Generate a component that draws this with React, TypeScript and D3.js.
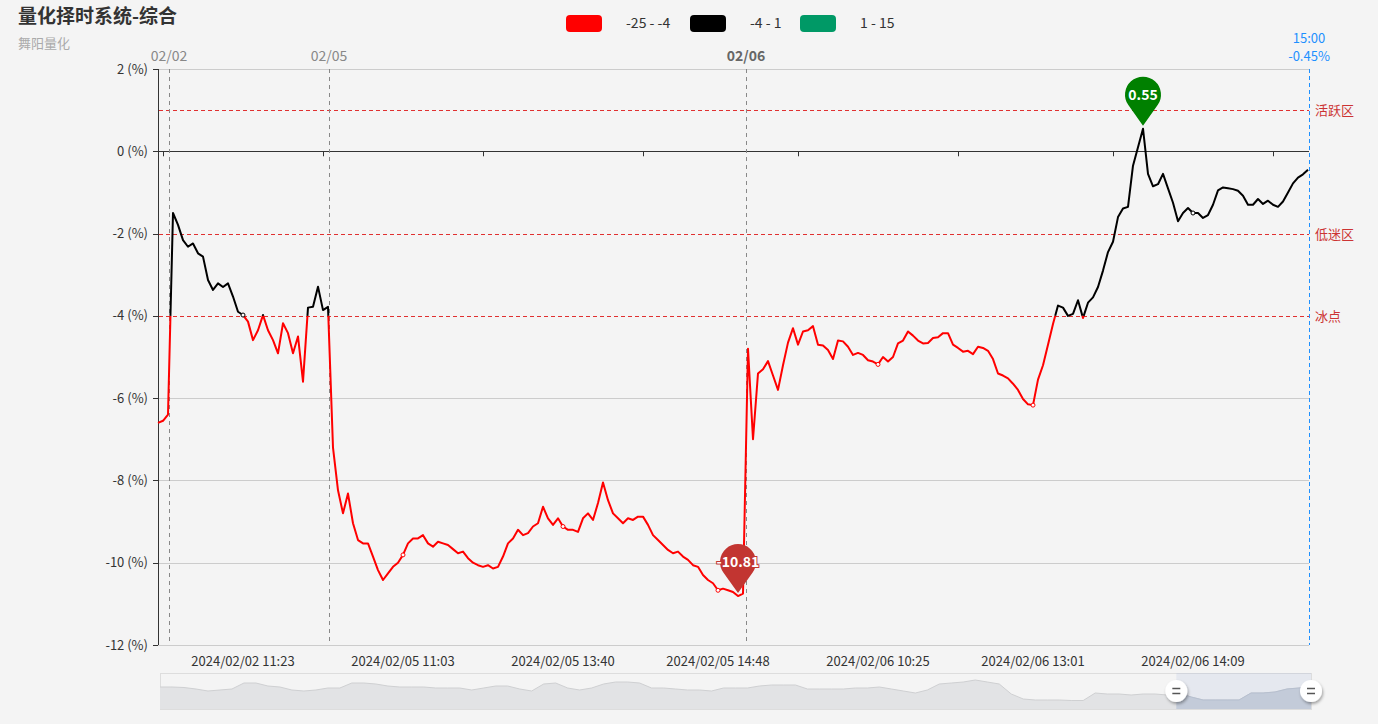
import React from "react";
import * as d3 from "d3";

const titleText = "量化择时系统-综合";
const subtitleText = "舞阳量化";

const values: number[] = [
  -6.6, -6.55, -6.4, -1.5, -1.79, -2.16, -2.32, -2.24, -2.48, -2.56,
  -3.13, -3.37, -3.21, -3.3, -3.21, -3.53, -3.9, -3.98, -4.14, -4.59,
  -4.35, -3.98, -4.35, -4.59, -4.91, -4.18, -4.42, -4.91, -4.5, -5.6,
  -3.8, -3.78, -3.29, -3.86, -3.78, -7.2, -8.24, -8.8, -8.32, -9.04,
  -9.45, -9.53, -9.53, -9.85, -10.18, -10.42, -10.26, -10.1, -10.0, -9.81,
  -9.53, -9.41, -9.41, -9.33, -9.53, -9.61, -9.49, -9.53, -9.57, -9.67,
  -9.77, -9.73, -9.89, -10.0, -10.06, -10.1, -10.06, -10.14, -10.1, -9.85,
  -9.53, -9.41, -9.2, -9.33, -9.28, -9.12, -9.04, -8.64, -8.92, -9.08,
  -8.92, -9.12, -9.2, -9.2, -9.25, -8.92, -8.8, -8.96, -8.55, -8.05,
  -8.48, -8.8, -8.92, -9.04, -8.92, -8.96, -8.88, -8.88, -9.08, -9.33,
  -9.45, -9.57, -9.69, -9.77, -9.73, -9.85, -9.93, -10.06, -10.1, -10.3,
  -10.42, -10.5, -10.67, -10.63, -10.67, -10.71, -10.81, -10.75, -4.8, -7.0,
  -5.4, -5.3, -5.1, -5.45, -5.8, -5.2, -4.65, -4.3, -4.7, -4.38,
  -4.35, -4.25, -4.7, -4.72, -4.83, -5.05, -4.6, -4.62, -4.75, -4.95,
  -4.9, -4.95, -5.08, -5.11, -5.18, -5.0, -5.11, -5.0, -4.67, -4.6,
  -4.38, -4.48, -4.6, -4.67, -4.66, -4.54, -4.52, -4.42, -4.42, -4.7,
  -4.78, -4.87, -4.85, -4.93, -4.75, -4.78, -4.85, -5.05, -5.4, -5.45,
  -5.52, -5.65, -5.8, -6.02, -6.15, -6.17, -5.55, -5.2, -4.7, -4.2,
  -3.75, -3.8, -4.0, -3.95, -3.62, -4.05, -3.68, -3.55, -3.3, -2.9,
  -2.45, -2.2, -1.6, -1.39, -1.35, -0.35, 0.1, 0.55, -0.55, -0.85,
  -0.8, -0.55, -0.9, -1.25, -1.7, -1.5, -1.38, -1.5, -1.5, -1.62,
  -1.55, -1.3, -0.95, -0.88, -0.9, -0.92, -0.96, -1.08, -1.3, -1.3,
  -1.16, -1.28, -1.2, -1.3, -1.35, -1.22, -1.0, -0.78, -0.64, -0.56,
  -0.45,
];

const xLabels = [
  "2024/02/02 11:23",
  "2024/02/05 11:03",
  "2024/02/05 13:40",
  "2024/02/05 14:48",
  "2024/02/06 10:25",
  "2024/02/06 13:01",
  "2024/02/06 14:09",
];
const xLabelIdx = [17, 49, 81, 112, 144, 175, 207];

const dayMarkers = [
  { label: "02/02", idx: 2.2, bold: false },
  { label: "02/05", idx: 34.2, bold: false },
  { label: "02/06", idx: 117.6, bold: true },
];
const lastTime = "15:00";

const pieces = [
  { min: -25, max: -4, color: "#ff0000", label: "-25 - -4" },
  { min: -4, max: 1, color: "#000000", label: "-4 - 1" },
  { min: 1, max: 15, color: "#009966", label: "1 - 15" },
];

const refLines = [
  { value: 1, label: "活跃区" },
  { value: -2, label: "低迷区" },
  { value: -4, label: "冰点" },
];

const yTicks = [2, 0, -2, -4, -6, -8, -10, -12];

const overview: number[] = [
  22, 22, 21.5, 20, 18, 19, 20, 26, 26, 23, 22, 19, 18, 19, 21, 21, 26, 26, 25, 23,
  22, 22, 22, 21, 21, 21, 19, 21, 23, 23, 20, 18, 25, 26, 21, 19, 21, 25, 27, 27,
  26, 21, 21, 20, 19, 19, 18, 21, 21, 21, 23, 24, 24, 24, 20, 20, 20, 20, 21, 21,
  22, 20, 18, 16, 19, 25, 26, 27, 29, 27, 25, 15, 10, 9, 9, 9, 8.5, 8.5, 16, 15,
  15, 14, 15, 15, 14, 16, 12, 9, 9, 9, 9, 16, 16, 17, 20, 21, 22,
];
const zoomRange = [88.3, 100];

const FONT = "'Noto Sans CJK SC', 'Microsoft YaHei', sans-serif";

function colorOf(v: number) {
  for (const p of pieces) if (v >= p.min && v <= p.max) return p.color;
  return pieces[pieces.length - 1].color;
}

function pinPath(cx: number, cy: number, r: number, d: number) {
  const c = r / d;
  const s = Math.sqrt(1 - c * c);
  const lx = cx - r * s, ly = cy + r * c;
  const rx = cx + r * s;
  return `M${cx},${cy + d} L${lx},${ly} A${r},${r} 0 1 1 ${rx},${ly} Z`;
}

const px = (v: number) => Math.round(v) + 0.5;

export default function App() {
  const W = 1378, H = 724;
  const x = d3.scaleLinear().domain([0, values.length - 1]).range([158, 1308]);
  const y = d3.scaleLinear().domain([-12, 2]).range([645, 69]);
  const left = 158, right = 1309;

  const thresholds = Array.from(new Set(pieces.flatMap((p) => [p.min, p.max])));
  type Pt = [number, number];
  const segs: { color: string; pts: Pt[] }[] = [];
  const push = (a: Pt, b: Pt) => {
    const color = colorOf((a[1] + b[1]) / 2);
    const last = segs[segs.length - 1];
    if (last && last.color === color) last.pts.push(b);
    else segs.push({ color, pts: [a, b] });
  };
  for (let i = 0; i < values.length - 1; i++) {
    const a: Pt = [i, values[i]], b: Pt = [i + 1, values[i + 1]];
    const cross = thresholds
      .filter((t) => (t - a[1]) * (t - b[1]) < 0)
      .map((t) => (t - a[1]) / (b[1] - a[1]))
      .sort((p, q) => p - q);
    let prev = a;
    for (const f of cross) {
      const m: Pt = [a[0] + f * (b[0] - a[0]), a[1] + f * (b[1] - a[1])];
      push(prev, m);
      prev = m;
    }
    push(prev, b);
  }
  const line = d3.line<Pt>().x((d) => x(d[0])).y((d) => y(d[1]));

  const maxV = d3.max(values)!;
  const minV = d3.min(values)!;
  const maxI = values.indexOf(maxV);
  const minI = values.indexOf(minV);
  const lastV = values[values.length - 1];

  const half = (xLabelIdx[1] - xLabelIdx[0]) / 2;
  const tickIdx = [xLabelIdx[0] - half, ...xLabelIdx.map((i) => i + half)];

  const ox = d3.scaleLinear().domain([0, overview.length - 1]).range([160, 1311]);
  const oy = d3.scaleLinear().domain([0, 36]).range([709, 673]);
  const area = d3.area<number>().x((_, i) => ox(i)).y0(oy(0)).y1((d) => oy(d));
  const oline = d3.line<number>().x((_, i) => ox(i)).y((d) => oy(d));
  const zx = d3.scaleLinear().domain([0, 100]).range([160, 1311]);
  const z0 = zx(zoomRange[0]), z1 = zx(zoomRange[1]);

  const markers = [
    { i: maxI, v: maxV, color: "#008000" },
    { i: minI, v: minV, color: "#c23531" },
  ];

  return (
    <div>
      <style>{`body{margin:0;background:#f4f4f4}`}</style>
      <svg width={W} height={H} style={{ display: "block", fontFamily: FONT }}>
        <defs>
          <filter id="sh" x="-50%" y="-50%" width="200%" height="200%">
            <feDropShadow dx="1" dy="2" stdDeviation="1.5" floodColor="#000" floodOpacity="0.35" />
          </filter>
          <clipPath id="sel">
            <rect x={z0} y={660} width={z1 - z0} height={60} />
          </clipPath>
        </defs>
        <rect width={W} height={H} fill="#f4f4f4" />
        <text x={18} y={23} fontSize={19} fontWeight="bold" fill="#333">{titleText}</text>
        <text x={18} y={48} fontSize={13} fill="#aaa">{subtitleText}</text>

        {pieces.map((p, k) => {
          const lx = [566, 690, 800][k];
          const tx = [626, 750, 860][k];
          return (
            <g key={p.label}>
              <rect x={lx} y={15} width={36} height={17} rx={4} fill={p.color} />
              <text x={tx} y={28} fontSize={14} fill="#333">{p.label}</text>
            </g>
          );
        })}

        {yTicks.map((t) => (
          <line key={t} x1={left} x2={right} y1={px(y(t))} y2={px(y(t))} stroke={t === 0 ? "#333" : "#ccc"} strokeWidth={1} />
        ))}
        {yTicks.map((t) => (
          <g key={"yl" + t}>
            <line x1={left - 5} x2={left} y1={px(y(t))} y2={px(y(t))} stroke="#333" />
            <text x={left - 10} y={y(t) + 4.5} fontSize={13} textAnchor="end" fill="#333">{`${t} (%)`}</text>
          </g>
        ))}
        <line x1={left + 0.5} x2={left + 0.5} y1={y(2)} y2={y(-12)} stroke="#333" />
        {tickIdx.map((t, k) => (
          <line key={"xt" + k} x1={px(x(t))} x2={px(x(t))} y1={y(0)} y2={y(0) + 5} stroke="#333" />
        ))}
        {xLabels.map((l, k) => (
          <text key={l} x={x(xLabelIdx[k])} y={666} fontSize={13} textAnchor="middle" fill="#333">{l}</text>
        ))}

        {refLines.map((r) => (
          <g key={r.label}>
            <line x1={left + 1} x2={right} y1={px(y(r.value))} y2={px(y(r.value))} stroke="#f4f4f4" strokeWidth={1} />
            <line x1={left + 1} x2={right} y1={px(y(r.value))} y2={px(y(r.value))} stroke="#e03030" strokeDasharray="4,3" strokeWidth={1} />
            <text x={1315} y={y(r.value) + 5} fontSize={13} fill="#cc3333">{r.label}</text>
          </g>
        ))}

        {dayMarkers.map((m) => (
          <g key={m.label}>
            <line x1={px(x(m.idx))} x2={px(x(m.idx))} y1={y(2)} y2={y(-12)} stroke="#888" strokeDasharray="4,4" />
            <text x={x(m.idx)} y={61} fontSize={14} textAnchor="middle" fill={m.bold ? "#666" : "#888"} fontWeight={m.bold ? "bold" : "normal"}>{m.label}</text>
          </g>
        ))}
        <line x1={px(right)} x2={px(right)} y1={y(2)} y2={y(-12)} stroke="#1e90ff" strokeDasharray="4,3" />
        <text x={right} y={43} fontSize={13} textAnchor="middle" fill="#1e90ff">{lastTime}</text>
        <text x={right} y={61} fontSize={13} textAnchor="middle" fill="#1e90ff">{`${lastV.toFixed(2)}%`}</text>

        {segs.map((s, k) => (
          <path key={k} d={line(s.pts)!} fill="none" stroke={s.color} strokeWidth={2} strokeLinejoin="round" />
        ))}
        {xLabelIdx.map((i) => (
          <circle key={"s" + i} cx={x(i)} cy={y(values[i])} r={2} fill="#fff" stroke={colorOf(values[i])} strokeWidth={1} />
        ))}

        {markers.map((m) => {
          const mx = x(m.i), my = y(m.v);
          const cy = my - 34;
          return (
            <g key={m.i}>
              <path d={pinPath(mx, cy, 18, 31)} fill={m.color} />
              <text x={mx} y={cy + 5} fontSize={14} fontWeight={600} textAnchor="middle" fill="#fff" stroke={m.color} strokeWidth={2} paintOrder="stroke">{m.v.toFixed(2)}</text>
            </g>
          );
        })}

        <rect x={160.5} y={673.5} width={1151} height={36} fill="none" stroke="#ddd" />
        <path d={area(overview)!} fill="#e2e3e5" />
        <path d={oline(overview)!} fill="none" stroke="#cfd0d2" strokeWidth={1} />
        <g clipPath="url(#sel)">
          <path d={area(overview)!} fill="#cbd1da" />
          <path d={oline(overview)!} fill="none" stroke="#bcc3cd" strokeWidth={1} />
        </g>
        <rect x={z0} y={673} width={z1 - z0} height={36} fill="rgba(160,180,215,0.18)" />
        {[z0, z1].map((hx, k) => (
          <g key={"h" + k}>
            <circle cx={hx} cy={691} r={11} fill="#fff" filter="url(#sh)" />
            <line x1={hx - 4} x2={hx + 4} y1={688.5} y2={688.5} stroke="#555" strokeWidth={1.5} />
            <line x1={hx - 4} x2={hx + 4} y1={693.5} y2={693.5} stroke="#555" strokeWidth={1.5} />
          </g>
        ))}
      </svg>
    </div>
  );
}
